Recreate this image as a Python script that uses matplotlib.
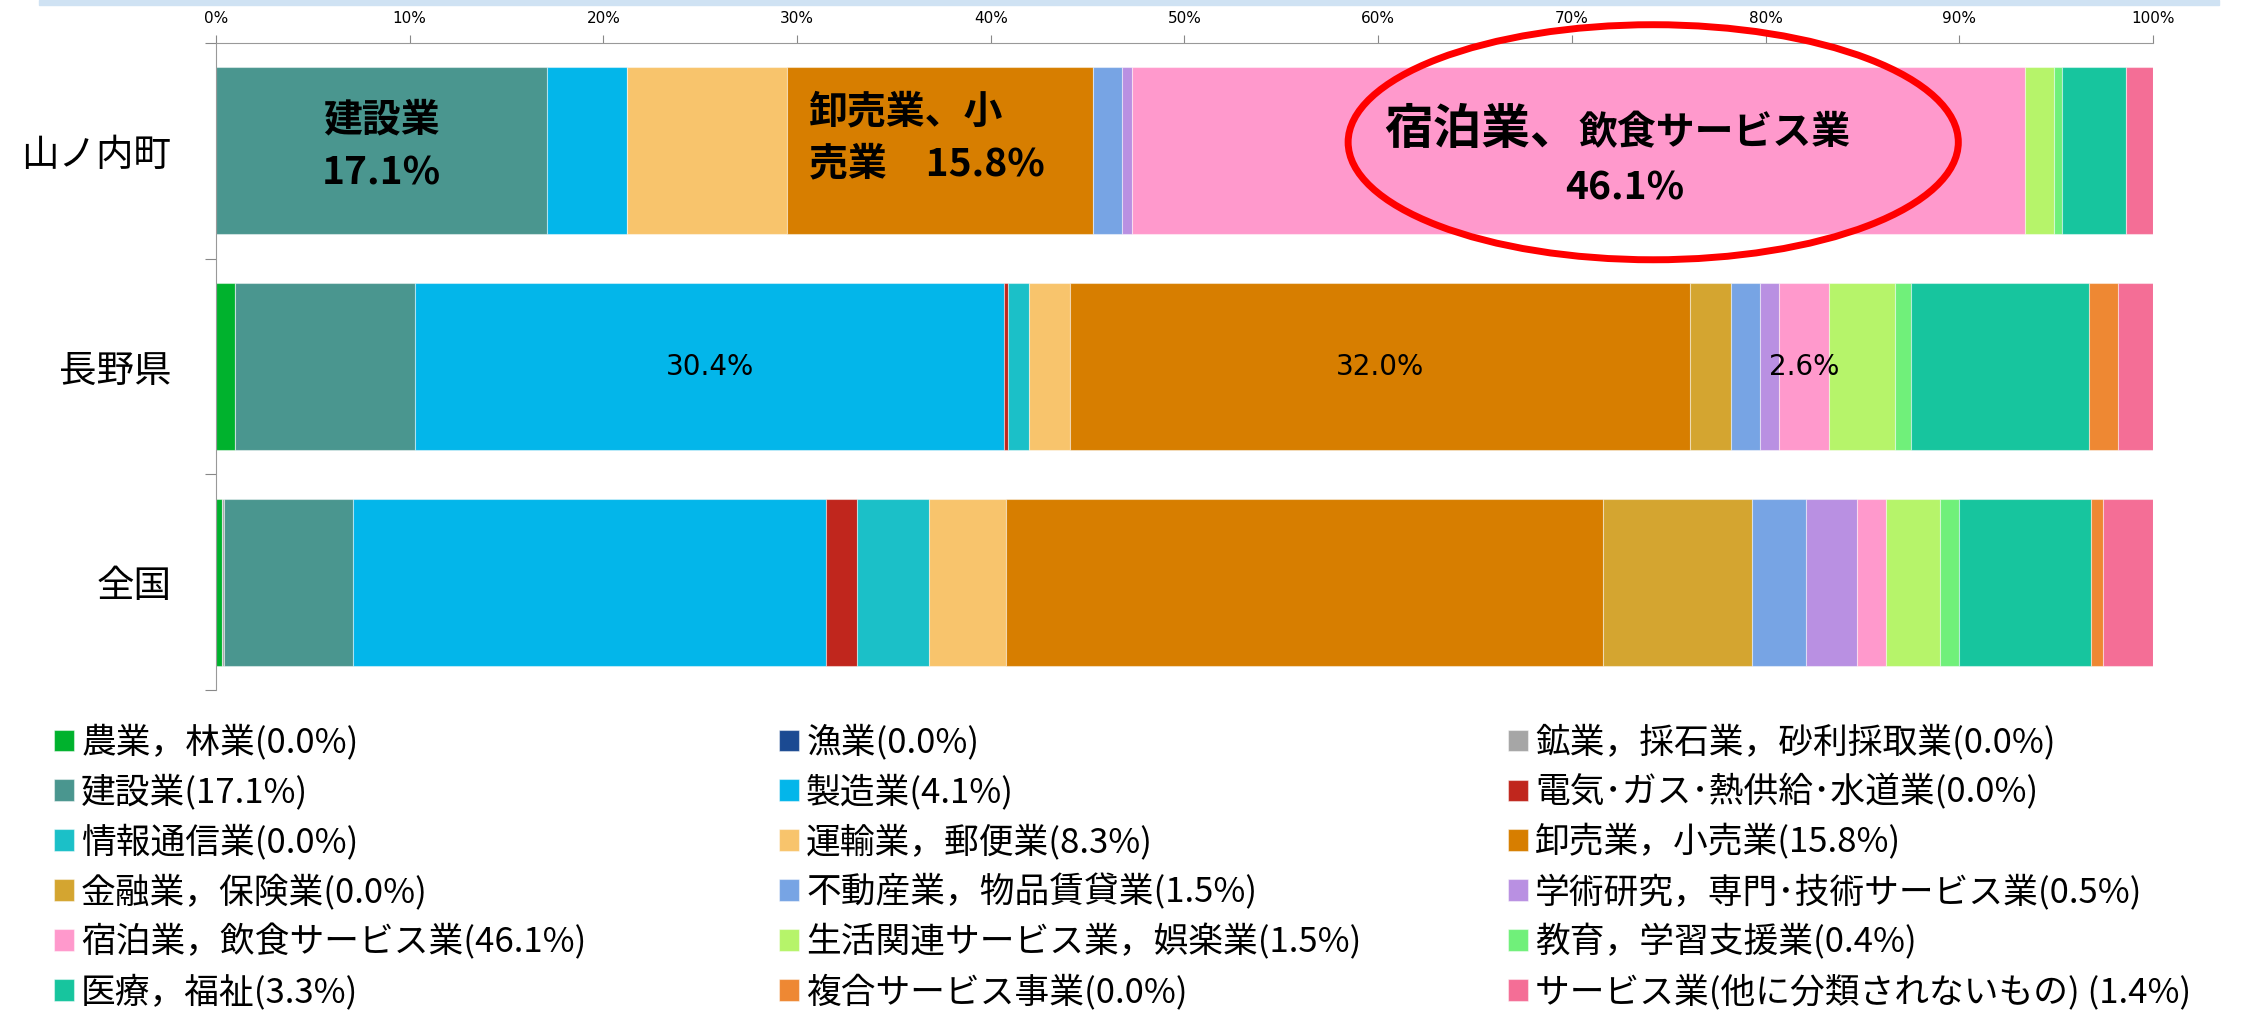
import matplotlib.pyplot as plt
import numpy as np
from matplotlib.patches import Ellipse, Rectangle

plt.rcParams['font.family'] = ['Noto Sans CJK JP', 'DejaVu Sans']

REGIONS = ['山ノ内町', '長野県', '全国']
INDUSTRIES = ['農業，林業', '漁業', '鉱業，採石業，砂利採取業', '建設業', '製造業',
              '電気･ガス･熱供給･水道業', '情報通信業', '運輸業，郵便業', '卸売業，小売業',
              '金融業，保険業', '不動産業，物品賃貸業', '学術研究，専門･技術サービス業',
              '宿泊業，飲食サービス業', '生活関連サービス業，娯楽業', '教育，学習支援業',
              '医療，福祉', '複合サービス事業', 'サービス業(他に分類されないもの) ']
COLORS = ['#00B22D', '#1B4A92', '#A6A6A6', '#4A968F', '#03B6EA', '#C0261D',
          '#1BC0C8', '#F8C46C', '#D77E00', '#D4A530', '#77A4E4', '#B990E2',
          '#FF99CC', '#B6F46A', '#70F07A', '#17C59E', '#EE8833', '#F46E96']

# shares (%) per industry, same order as INDUSTRIES
YAMANOUCHI = [0.0, 0.0, 0.0, 17.1, 4.1, 0.0, 0.0, 8.3, 15.8, 0.0, 1.5, 0.5, 46.1, 1.5, 0.4, 3.3, 0.0, 1.4]
NAGANO = [1.0, 0.0, 0.0, 9.3, 30.4, 0.2, 1.1, 2.1, 32.0, 2.1, 1.5, 1.0, 2.6, 3.4, 0.8, 9.2, 1.5, 1.8]
JAPAN = [0.3, 0.0, 0.1, 6.7, 24.4, 1.6, 3.7, 4.0, 30.8, 7.7, 2.8, 2.6, 1.5, 2.8, 1.0, 6.8, 0.6, 2.6]
X_TICKS = [0, 10, 20, 30, 40, 50, 60, 70, 80, 90, 100]

if __name__ == "__main__":
    data = np.array([YAMANOUCHI, NAGANO, JAPAN])
    lefts = np.cumsum(data, axis=1) - data
    centers = lefts + data / 2
    ypos = np.arange(len(REGIONS))

    fig = plt.figure(figsize=(22.42, 10.15), dpi=100)
    ax = fig.add_axes([0.0963, 0.3202, 0.864, 0.6374])

    # light blue band at the very top of the slide
    fig.patches.append(Rectangle((0.0174, 0.995), 0.9725, 0.005, transform=fig.transFigure,
                                 color='#CFE2F3', zorder=0))

    handles = []
    for j, name in enumerate(INDUSTRIES):
        h = ax.barh(ypos, data[:, j], left=lefts[:, j], height=0.775, color=COLORS[j],
                    edgecolor=(1, 1, 1, 0.45), linewidth=0.8,
                    label=f'{name}({YAMANOUCHI[j]:.1f}%)')
        handles.append(h)

    ax.set_xlim(0, 100)
    ax.set_ylim(2.5, -0.5)
    ax.xaxis.tick_top()
    ax.set_xticks(X_TICKS)
    ax.set_xticklabels([f'{v}%' for v in X_TICKS], fontsize=11, family='DejaVu Sans')
    ax.tick_params(axis='x', length=6, color='#888888', pad=6)

    ax.set_yticks([-0.5, 0.5, 1.5, 2.5])
    ax.set_yticklabels([])
    ax.set_yticks(ypos, minor=True)
    ax.set_yticklabels(REGIONS, minor=True, fontsize=27)
    ax.tick_params(axis='y', which='major', length=8, color='#888888')
    ax.tick_params(axis='y', which='minor', length=0, pad=32)

    for side in ['right', 'bottom']:
        ax.spines[side].set_visible(False)
    for side in ['top', 'left']:
        ax.spines[side].set_color('#999999')

    # labels inside the 山ノ内町 bar
    ax.text(centers[0, 3], -0.02, f'建設業\n{YAMANOUCHI[3]:.1f}%', ha='center', va='center',
            fontsize=28, fontweight='bold', linespacing=1.45)
    ax.text(centers[0, 8] - 0.7, -0.06, f'卸売業、小\n売業　{YAMANOUCHI[8]:.1f}%', ha='center',
            va='center', multialignment='left', fontsize=28, fontweight='bold', linespacing=1.45)
    ax.text(centers[0, 12], -0.03, '宿泊業、', ha='right', va='baseline',
            fontsize=35, fontweight='bold')
    ax.text(centers[0, 12], -0.03, '飲食サービス業', ha='left', va='baseline',
            fontsize=28, fontweight='bold')
    ax.text(centers[0, 12] + 2.4, 0.17, f'{YAMANOUCHI[12]:.1f}%', ha='center', va='center',
            fontsize=28, fontweight='bold')

    # labels on the 長野県 bar
    for j in [4, 8, 12]:
        ax.text(centers[1, j], 1, f'{NAGANO[j]:.1f}%', ha='center', va='center',
                fontsize=20, family='DejaVu Sans')

    ax.add_patch(Ellipse((74.2, -0.04), 31.5, 1.09, fill=False, edgecolor='#FF0000',
                         linewidth=5, clip_on=False, zorder=5))

    # legend: three columns filled row by row
    col_x = [0.0241, 0.3475, 0.6726]
    for c in range(3):
        fig.legend(handles=handles[c::3], loc='upper left', bbox_to_anchor=(col_x[c], 0.286),
                   frameon=False, fontsize=25, handlelength=0.58, handleheight=0.58,
                   handletextpad=0.2, labelspacing=0.4, borderpad=0, borderaxespad=0)

    fig.savefig('out.png', dpi=100)
